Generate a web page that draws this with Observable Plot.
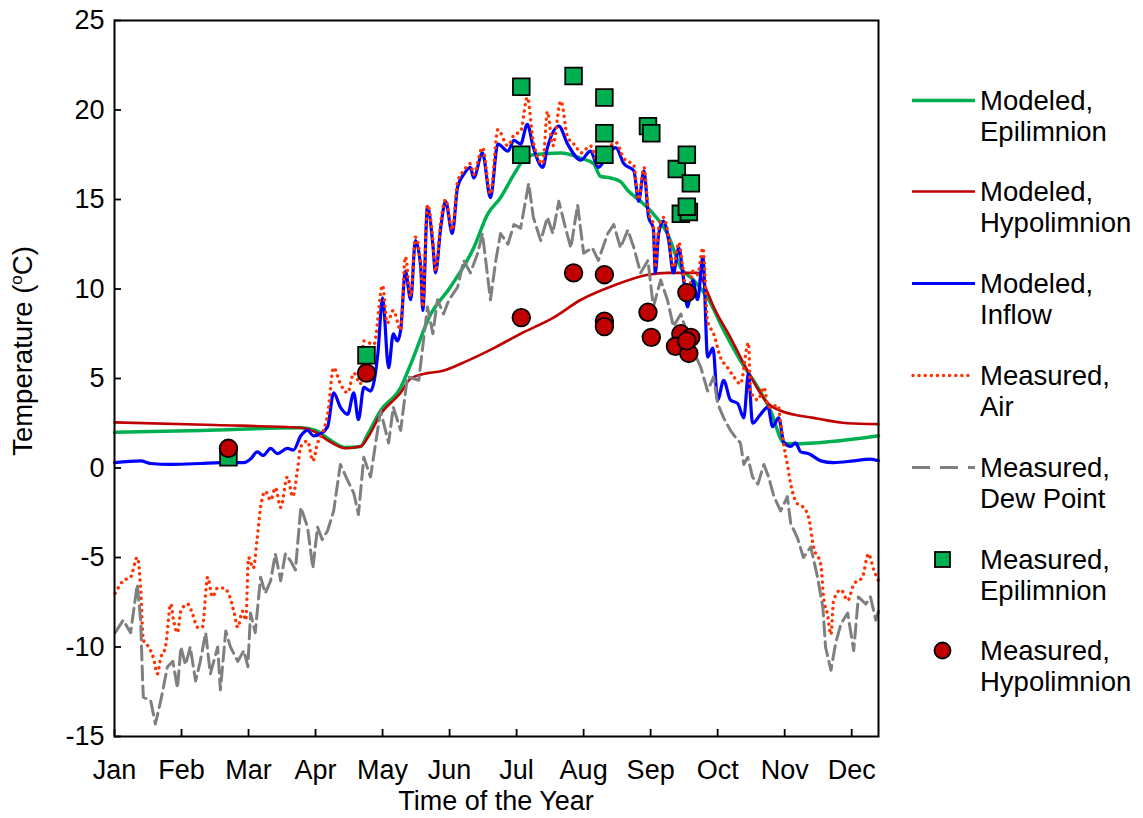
<!DOCTYPE html>
<html><head><meta charset="utf-8">
<script src="https://cdn.jsdelivr.net/npm/d3@7"></script>
<script src="https://cdn.jsdelivr.net/npm/@observablehq/plot@0.6"></script>
<style>
body{margin:0;background:#fff;font-family:"Liberation Sans",Arial,sans-serif;}
#wrap{position:relative;width:1143px;height:818px;}
.item{position:absolute;left:0;font-size:27.5px;line-height:31px;color:#000;}
.item svg{position:absolute;left:0;top:0;}
.item .txt{position:absolute;left:980px;top:0;white-space:nowrap;}
</style></head><body><div id="wrap"></div>
<script>
// x = month position (0 = Jan tick, 1 = Feb tick, ...), t = temperature (°C)
const months = ["Jan","Feb","Mar","Apr","May","Jun","Jul","Aug","Sep","Oct","Nov","Dec"];
const monthTicks = [0,1,2,3,4,5,6,7,8,9,10,11];
const tempTicks = [-15,-10,-5,0,5,10,15,20,25];

const modeledEpi = [[0,2.0],[1.3,2.1],[2.78,2.25],[3.0,2.1],[3.2,1.6],[3.45,1.15],[3.67,1.2],[3.78,1.9],[3.97,3.2],[4.27,4.5],[4.42,5.8],[4.72,8.6],[5.01,10.1],[5.36,12.3],[5.57,14.2],[5.76,15.1],[5.96,16.4],[6.1,17.2],[6.25,17.5],[6.66,17.6],[6.96,17.3],[7.15,17.0],[7.25,16.3],[7.4,16.2],[7.55,16.0],[7.66,15.5],[7.85,14.9],[8.04,14.2],[8.25,13.1],[8.45,11.2],[8.64,10.5],[8.85,9.5],[9.09,7.7],[9.34,6.0],[9.6,4.5],[9.79,3.2],[9.99,1.4],[10.13,1.35],[11.4,1.8]];

const modeledHypo = [[0,2.55],[1.5,2.4],[2.78,2.25],[3.0,2.0],[3.2,1.5],[3.45,1.1],[3.67,1.2],[3.78,1.7],[3.97,3.0],[4.27,4.2],[4.42,5.0],[4.67,5.3],[4.87,5.4],[5.27,6.0],[5.66,6.7],[6.06,7.5],[6.55,8.4],[6.96,9.4],[7.45,10.2],[7.96,10.8],[8.25,10.9],[8.7,10.9],[8.85,9.8],[8.94,9.0],[9.19,7.3],[9.45,5.4],[9.75,3.6],[9.94,3.2],[10.43,2.8],[10.94,2.5],[11.4,2.45]];

const modeledInflow = [[0,0.3],[0.39,0.4],[0.54,0.25],[0.84,0.2],[1.28,0.25],[1.58,0.3],[1.93,0.3],[2.03,0.5],[2.13,0.9],[2.22,0.7],[2.33,1.1],[2.43,0.8],[2.58,1.1],[2.67,1.0],[2.78,1.8],[2.88,2.1],[2.97,1.8],[3.07,1.9],[3.18,2.3],[3.27,4.2],[3.37,3.4],[3.48,3.0],[3.57,4.2],[3.64,2.7],[3.72,4.5],[3.82,4.3],[3.93,6.4],[4.0,9.5],[4.09,5.6],[4.16,7.5],[4.22,7.1],[4.27,7.7],[4.34,11.0],[4.42,9.4],[4.49,12.7],[4.57,11.2],[4.6,8.8],[4.67,14.6],[4.75,12.5],[4.79,10.9],[4.87,13.5],[4.94,14.9],[5.04,13.1],[5.12,15.7],[5.21,16.4],[5.31,16.8],[5.36,16.2],[5.49,17.6],[5.61,15.1],[5.72,18.1],[5.87,17.7],[5.96,18.3],[6.06,18.1],[6.16,19.2],[6.25,17.9],[6.39,16.8],[6.46,17.9],[6.63,19.1],[6.76,18.1],[6.96,17.2],[7.1,17.7],[7.22,16.8],[7.36,17.5],[7.48,17.9],[7.6,17.0],[7.75,16.6],[7.82,14.9],[7.9,16.6],[7.97,14.0],[8.04,13.4],[8.07,10.9],[8.12,13.1],[8.19,13.8],[8.27,12.7],[8.34,10.9],[8.42,12.3],[8.48,10.9],[8.55,9.0],[8.63,10.5],[8.7,9.4],[8.78,11.8],[8.85,6.2],[8.93,6.7],[9.0,3.8],[9.09,4.9],[9.19,3.8],[9.3,3.6],[9.39,2.8],[9.46,5.3],[9.52,2.5],[9.64,3.0],[9.75,3.4],[9.82,2.3],[9.91,2.8],[9.99,1.4],[10.09,1.2],[10.16,1.4],[10.24,0.9],[10.36,0.8],[10.54,0.4],[10.73,0.3],[11.03,0.4],[11.28,0.5],[11.4,0.4]];

const measuredAir = [[0.01,-7.0],[0.13,-6.3],[0.24,-6.1],[0.34,-5.0],[0.39,-6.7],[0.43,-9.6],[0.51,-10.0],[0.58,-10.6],[0.64,-11.5],[0.69,-10.6],[0.76,-10.0],[0.84,-7.6],[0.88,-8.5],[0.94,-9.2],[0.99,-8.0],[1.09,-7.6],[1.16,-8.1],[1.24,-8.9],[1.31,-8.9],[1.39,-6.1],[1.46,-7.2],[1.54,-6.7],[1.63,-6.7],[1.7,-7.0],[1.78,-8.0],[1.84,-8.9],[1.91,-8.0],[1.96,-8.5],[2.0,-5.0],[2.07,-5.6],[2.13,-3.9],[2.18,-2.2],[2.25,-1.3],[2.33,-1.8],[2.4,-1.1],[2.48,-2.2],[2.58,-0.5],[2.66,-1.6],[2.73,-0.1],[2.78,1.2],[2.88,1.5],[2.96,0.4],[3.03,1.4],[3.07,1.7],[3.18,3.0],[3.27,5.6],[3.37,4.7],[3.48,4.2],[3.57,5.3],[3.67,4.7],[3.72,7.1],[3.87,6.9],[4.0,10.2],[4.07,8.1],[4.16,8.8],[4.27,7.7],[4.34,11.8],[4.42,9.6],[4.49,12.9],[4.57,11.4],[4.6,9.0],[4.67,14.7],[4.75,12.8],[4.79,11.0],[4.87,13.8],[4.94,15.0],[5.04,13.3],[5.12,16.0],[5.21,16.6],[5.31,17.0],[5.36,16.4],[5.49,17.9],[5.61,15.3],[5.72,18.9],[5.87,18.0],[5.96,18.6],[6.06,18.8],[6.16,20.7],[6.25,18.2],[6.39,17.0],[6.46,19.9],[6.54,18.0],[6.66,20.5],[6.76,18.5],[6.88,18.0],[6.96,17.6],[7.1,18.0],[7.22,17.0],[7.36,17.8],[7.48,18.2],[7.6,17.3],[7.75,16.9],[7.82,15.0],[7.9,16.8],[7.97,14.3],[8.04,13.6],[8.07,11.2],[8.12,13.4],[8.19,14.0],[8.27,12.9],[8.34,11.2],[8.42,12.6],[8.48,11.2],[8.55,9.4],[8.63,11.0],[8.7,10.8],[8.78,12.3],[8.85,8.2],[8.94,7.5],[9.04,6.2],[9.15,5.6],[9.24,5.1],[9.34,4.7],[9.46,7.0],[9.49,4.3],[9.6,3.8],[9.69,4.5],[9.76,3.4],[9.9,3.5],[9.94,2.5],[9.99,1.2],[10.04,0.2],[10.09,-0.9],[10.19,-2.0],[10.28,-2.2],[10.36,-2.8],[10.43,-4.4],[10.54,-5.4],[10.58,-7.2],[10.64,-8.2],[10.69,-9.3],[10.73,-7.4],[10.84,-6.8],[10.94,-7.4],[11.03,-6.5],[11.16,-6.1],[11.25,-4.8],[11.33,-5.7],[11.4,-6.3]];

const measuredDew = [[0.01,-9.2],[0.13,-8.5],[0.24,-9.2],[0.34,-6.5],[0.39,-8.5],[0.42,-11.9],[0.43,-12.8],[0.54,-13.0],[0.61,-14.3],[0.69,-13.0],[0.79,-11.1],[0.87,-10.8],[0.94,-12.3],[0.99,-10.0],[1.06,-11.0],[1.13,-10.0],[1.21,-11.9],[1.28,-10.8],[1.36,-9.2],[1.43,-11.5],[1.54,-10.0],[1.58,-12.4],[1.66,-9.1],[1.73,-10.0],[1.84,-10.8],[1.93,-10.2],[1.99,-11.1],[2.03,-8.1],[2.1,-9.2],[2.18,-6.1],[2.25,-7.0],[2.33,-6.3],[2.4,-4.8],[2.48,-6.3],[2.55,-4.8],[2.63,-5.2],[2.7,-5.7],[2.78,-2.2],[2.88,-3.3],[2.96,-5.6],[3.03,-3.3],[3.1,-4.0],[3.18,-3.5],[3.27,-2.4],[3.37,0.2],[3.48,-0.7],[3.57,-1.4],[3.64,-2.6],[3.72,0.6],[3.82,-0.5],[3.97,3.2],[4.09,1.4],[4.16,3.4],[4.27,2.1],[4.37,5.1],[4.54,4.9],[4.67,9.0],[4.75,7.5],[4.82,9.4],[4.91,8.6],[4.99,9.4],[5.12,10.1],[5.21,11.6],[5.31,10.9],[5.42,12.0],[5.49,13.1],[5.61,9.4],[5.69,11.6],[5.76,13.1],[5.87,12.5],[5.96,13.6],[6.06,13.4],[6.18,15.9],[6.25,14.0],[6.36,12.7],[6.46,14.0],[6.54,13.1],[6.63,14.9],[6.73,13.4],[6.81,12.3],[6.91,14.7],[7.0,12.0],[7.13,12.3],[7.22,11.6],[7.36,13.1],[7.45,13.6],[7.55,12.3],[7.66,13.3],[7.75,12.3],[7.85,10.9],[7.96,11.6],[8.04,9.0],[8.15,10.5],[8.25,9.4],[8.34,7.9],[8.45,8.6],[8.6,6.9],[8.75,5.6],[8.85,4.3],[8.94,5.1],[9.0,3.6],[9.09,2.8],[9.19,2.1],[9.27,1.7],[9.34,1.4],[9.39,0.2],[9.45,0.6],[9.52,-0.5],[9.6,-0.9],[9.69,0.2],[9.76,-0.5],[9.84,-1.6],[9.94,-2.4],[10.04,-1.6],[10.09,-3.1],[10.19,-3.9],[10.28,-5.0],[10.39,-4.4],[10.49,-6.1],[10.57,-7.8],[10.61,-10.0],[10.69,-11.3],[10.76,-9.8],[10.84,-8.7],[10.94,-8.1],[11.03,-10.2],[11.1,-7.2],[11.21,-7.6],[11.28,-7.2],[11.36,-8.5],[11.4,-8.0]];

const measuredEpiPts = [[1.70,0.6],[3.76,6.3],[6.07,21.3],[6.07,17.5],[6.85,21.9],[7.31,20.7],[7.31,18.7],[7.31,17.5],[7.96,19.1],[8.01,18.7],[8.39,16.7],[8.54,17.5],[8.6,15.9],[8.45,14.2],[8.57,14.3],[8.54,14.6]];
const measuredHypoPts = [[1.70,1.1],[3.76,5.3],[6.07,8.4],[6.85,10.9],[7.31,10.8],[7.31,8.2],[7.31,7.9],[7.96,8.7],[8.01,7.3],[8.54,9.8],[8.45,7.5],[8.6,7.3],[8.37,6.8],[8.57,6.4],[8.54,7.1]];

const C = {epi:"#00B050", hypo:"#C00000", inflow:"#0000FF", air:"#FF3300", dew:"#7F7F7F"};
const FONT = '"Liberation Sans", Arial, sans-serif';
const X = d => d[0], Y = d => d[1];

const chart = Plot.plot({
  width: 1143, height: 818,
  marginLeft: 114, marginRight: 265, marginTop: 20, marginBottom: 82,
  x: {domain: [0, 11.4]},
  y: {domain: [-15, 25]},
  style: {fontFamily: FONT, fontSize: "27px", color: "#000", background: "#fff", overflow: "visible"},
  marks: [
    Plot.line(modeledEpi, {x: X, y: Y, stroke: C.epi, strokeWidth: 3.5, curve: "monotone-x"}),
    Plot.line(modeledHypo, {x: X, y: Y, stroke: C.hypo, strokeWidth: 2.6, curve: "monotone-x"}),
    Plot.line(modeledInflow, {x: X, y: Y, stroke: C.inflow, strokeWidth: 3.2, curve: "monotone-x"}),
    Plot.line(measuredAir, {x: X, y: Y, stroke: C.air, strokeWidth: 3.4, strokeDasharray: "0.1,6", strokeLinecap: "round", curve: "monotone-x"}),
    Plot.line(measuredDew, {x: X, y: Y, stroke: C.dew, strokeWidth: 3, strokeDasharray: "14,6", curve: "linear"}),
    Plot.dot(measuredEpiPts, {x: X, y: Y, symbol: "square", r: 9.4, fill: C.epi, stroke: "#000", strokeWidth: 1.8}),
    Plot.dot(measuredHypoPts, {x: X, y: Y, symbol: "circle", r: 8.8, fill: C.hypo, stroke: "#000", strokeWidth: 1.8}),
    Plot.frame({stroke: "#000", strokeWidth: 2}),
    Plot.axisY(tempTicks, {tickSize: 0, tickPadding: 10, tickFormat: d => String(d), fontSize: 27, label: null}),
    Plot.axisY(tempTicks, {tickSize: 7, dx: 7, fill: "none", strokeWidth: 1.8, label: null}),
    Plot.axisX(monthTicks, {tickSize: 0, tickPadding: 23, tickFormat: i => months[i], fontSize: 27, label: null}),
    Plot.axisX(monthTicks, {tickSize: 7, dy: -7, fill: "none", strokeWidth: 1.8, label: null})
  ]
});

const ns = "http://www.w3.org/2000/svg";
// axis titles
const yt = document.createElementNS(ns, "text");
yt.setAttribute("transform", "translate(32,351) rotate(-90)");
yt.setAttribute("text-anchor", "middle");
yt.setAttribute("font-size", "27.5");
yt.setAttribute("fill", "#000");
yt.append("Temperature (");
const sup = document.createElementNS(ns, "tspan");
sup.setAttribute("font-size", "17"); sup.setAttribute("dy", "-10"); sup.textContent = "o";
const cC = document.createElementNS(ns, "tspan");
cC.setAttribute("dy", "10"); cC.textContent = "C)";
yt.append(sup, cC);
chart.append(yt);
const xt = document.createElementNS(ns, "text");
xt.setAttribute("x", 496); xt.setAttribute("y", 810);
xt.setAttribute("text-anchor", "middle"); xt.setAttribute("font-size", "27"); xt.setAttribute("fill", "#000");
xt.textContent = "Time of the Year";
chart.append(xt);

const wrap = document.getElementById("wrap");
wrap.append(chart);

// legend
const legendItems = [
  {lines: ["Modeled,", "Epilimnion"], kind: "line", color: C.epi, w: 3.5},
  {lines: ["Modeled,", "Hypolimnion"], kind: "line", color: C.hypo, w: 2.6},
  {lines: ["Modeled,", "Inflow"], kind: "line", color: C.inflow, w: 3},
  {lines: ["Measured,", "Air"], kind: "dot", color: C.air, w: 3.4},
  {lines: ["Measured,", "Dew Point"], kind: "dash", color: C.dew, w: 3},
  {lines: ["Measured,", "Epilimnion"], kind: "square", color: C.epi},
  {lines: ["Measured,", "Hypolimnion"], kind: "circle", color: C.hypo}
];
legendItems.forEach((it, i) => {
  const cy = 100 + i * 91.8;
  const div = document.createElement("div");
  div.className = "item";
  div.style.top = (cy - 15.5) + "px";
  let sw = "";
  if (it.kind === "line") sw = `<line x1="912" x2="975" y1="15.5" y2="15.5" stroke="${it.color}" stroke-width="${it.w}"/>`;
  if (it.kind === "dot") sw = `<line x1="913" x2="973" y1="15.5" y2="15.5" stroke="${it.color}" stroke-width="${it.w}" stroke-dasharray="0.1,6" stroke-linecap="round"/>`;
  if (it.kind === "dash") sw = `<line x1="912" x2="975" y1="15.5" y2="15.5" stroke="${it.color}" stroke-width="${it.w}" stroke-dasharray="18,10"/>`;
  if (it.kind === "square") sw = `<rect x="935" y="8" width="15" height="15" fill="${it.color}" stroke="#000" stroke-width="1.8"/>`;
  if (it.kind === "circle") sw = `<circle cx="942.5" cy="15.5" r="8" fill="${it.color}" stroke="#000" stroke-width="1.8"/>`;
  div.innerHTML = `<svg width="1143" height="31">${sw}</svg><div class="txt">${it.lines.join("<br>")}</div>`;
  wrap.append(div);
});
</script>
</body></html>
